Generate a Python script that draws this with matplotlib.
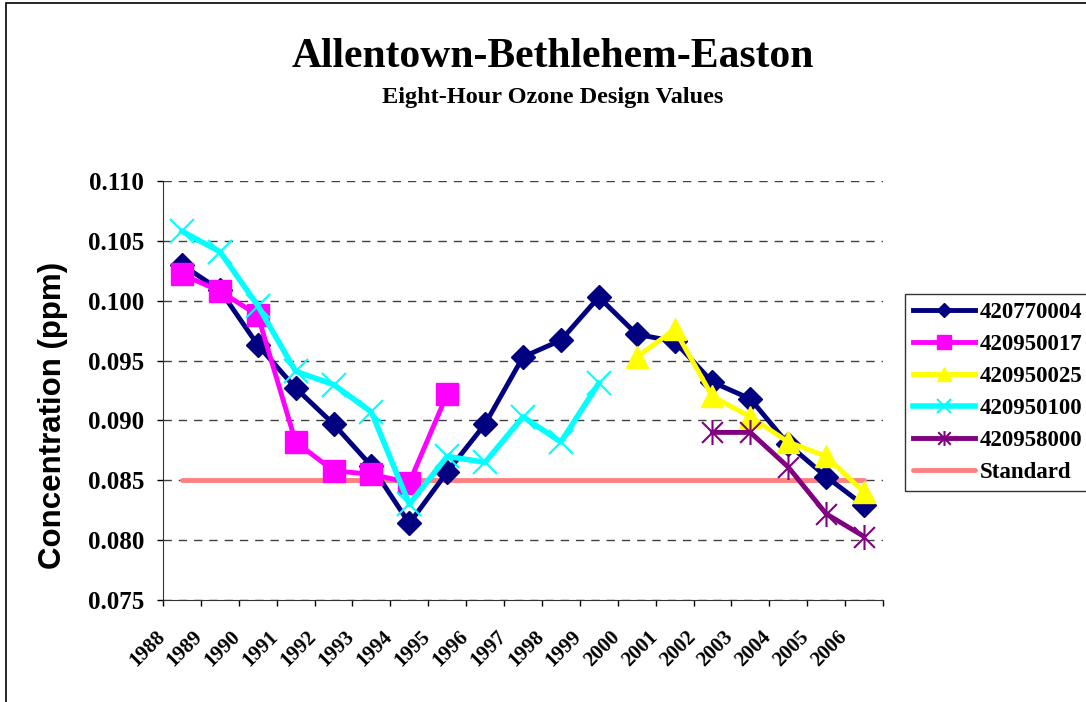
import matplotlib
matplotlib.use("Agg")
import matplotlib.pyplot as plt
from matplotlib.path import Path
from matplotlib.patches import Rectangle
import matplotlib.transforms as mtransforms
import numpy as np

years = [str(y) for y in range(1988, 2007)]

s_420770004 = [0.1030, 0.1009, 0.0963, 0.0927, 0.0897, 0.0862, 0.0814, 0.0857, 0.0897,
               0.0953, 0.0967, 0.1003, 0.0972, 0.0966, 0.0932, 0.0918, 0.0880, 0.0853, 0.0829]
s_420950017 = [0.1022, 0.1008, 0.0988, 0.0882, 0.0858, 0.0855, 0.0848, 0.0922]
s_420950025 = [0.0953, 0.0976, 0.0920, 0.0903, 0.0882, 0.0870, 0.0840]
s_420950100 = [0.1058, 0.1041, 0.0996, 0.0941, 0.0930, 0.0907, 0.0830, 0.0870, 0.0865,
               0.0903, 0.0882, 0.0931]
s_420958000 = [0.0890, 0.0890, 0.0861, 0.0822, 0.0803]
standard = [0.085] * 19

start_0017 = 0
start_0025 = 12
start_0100 = 0
start_8000 = 14

serif = ["Liberation Serif", "DejaVu Serif"]
sans = ["Liberation Sans", "DejaVu Sans"]

fig = plt.figure(figsize=(10.86, 7.02), dpi=100)
ax = fig.add_axes([163/1086, 1-600/702, (883-163)/1086, (600-181)/702])

x = np.arange(len(years))

# asterisk marker: x plus vertical line
star = Path([(-1, -1), (1, 1), (-1, 1), (1, -1), (0, -1.2), (0, 1.2)],
            [Path.MOVETO, Path.LINETO, Path.MOVETO, Path.LINETO, Path.MOVETO, Path.LINETO])

lw = 3.5
ax.plot(x, standard, color="#FF8080", lw=lw, solid_capstyle="round", zorder=1, label="Standard")
l1, = ax.plot(x, s_420770004, color="#000080", lw=lw, marker="D", ms=12, zorder=3, label="420770004")
l2, = ax.plot(x[start_0017:start_0017+len(s_420950017)], s_420950017, color="#FF00FF", lw=lw,
              marker="s", ms=16, zorder=4, label="420950017")
l3, = ax.plot(x[start_0025:start_0025+len(s_420950025)], s_420950025, color="#FFFF00", lw=lw,
              marker="^", ms=16, zorder=5, label="420950025")
l4, = ax.plot(x[start_0100:start_0100+len(s_420950100)], s_420950100, color="#00FFFF", lw=lw+0.5,
              marker="x", ms=17, mew=1.5, zorder=6, label="420950100")
l5, = ax.plot(x[start_8000:start_8000+len(s_420958000)], s_420958000, color="#800080", lw=lw,
              marker=star, ms=18, mew=1.5, zorder=7, label="420958000")

ax.set_xlim(-0.5, len(years) - 0.5)
ax.set_ylim(0.075, 0.110)
yt = np.arange(0.075, 0.1101, 0.005)
ax.set_yticks(yt)
ax.set_yticklabels([f"{v:.3f}" for v in yt], fontfamily=serif, fontweight="bold", fontsize=18)
ax.yaxis.grid(True, color="#404040", linestyle=(0, (6, 5)), lw=1.0)
ax.set_axisbelow(True)

ax.set_xticks(x)
ax.set_xticklabels(years, rotation=45, ha="right", va="top", rotation_mode="anchor",
                   fontfamily=serif, fontweight="bold", fontsize=15)
ax.tick_params(axis="x", which="major", length=0, pad=12)
offset = mtransforms.ScaledTranslation(-27/100, -10/100, fig.dpi_scale_trans)
for lab in ax.get_xticklabels():
    lab.set_transform(lab.get_transform() + offset)
ax.set_xticks(np.arange(-0.5, len(years), 1.0), minor=True)
ax.tick_params(axis="x", which="minor", length=4.5, direction="out", width=1)
ax.tick_params(axis="y", length=4.5, direction="out", width=1, pad=9)

for sp in ["top", "right"]:
    ax.spines[sp].set_visible(False)
for sp in ["left", "bottom"]:
    ax.spines[sp].set_color("#333333")

ax.set_ylabel("Concentration (ppm)", fontfamily=sans, fontweight="bold", fontsize=22.5)
ax.yaxis.set_label_coords((68-163)/720, (600-415)/419)

fig.text(553/1086, 1-57/702, "Allentown-Bethlehem-Easton", ha="center", va="center",
         fontfamily=serif, fontweight="bold", fontsize=30)
fig.text(553/1086, 1-98/702, "Eight-Hour Ozone Design Values", ha="center", va="center",
         fontfamily=serif, fontweight="bold", fontsize=17.5)

handles = [l1, l2, l3, l4, l5, ax.lines[0]]
leg = fig.legend(handles=handles, labels=[h.get_label() for h in handles],
                 loc="upper left", bbox_to_anchor=(905/1086, 1-294/702),
                 prop={"family": serif, "weight": "bold", "size": 16.5},
                 frameon=True, fancybox=False, edgecolor="black", markerscale=0.6,
                 handlelength=2.7, handletextpad=0.2, labelspacing=0.48, borderpad=0.35,
                 borderaxespad=0)
leg.get_frame().set_linewidth(1.0)

fig.patches.append(Rectangle((6/1086, -0.01), 1.1, 1 - 3/702 + 0.01, transform=fig.transFigure,
                             fill=False, edgecolor="black", lw=1.2))

fig.savefig("out.png", dpi=100)
